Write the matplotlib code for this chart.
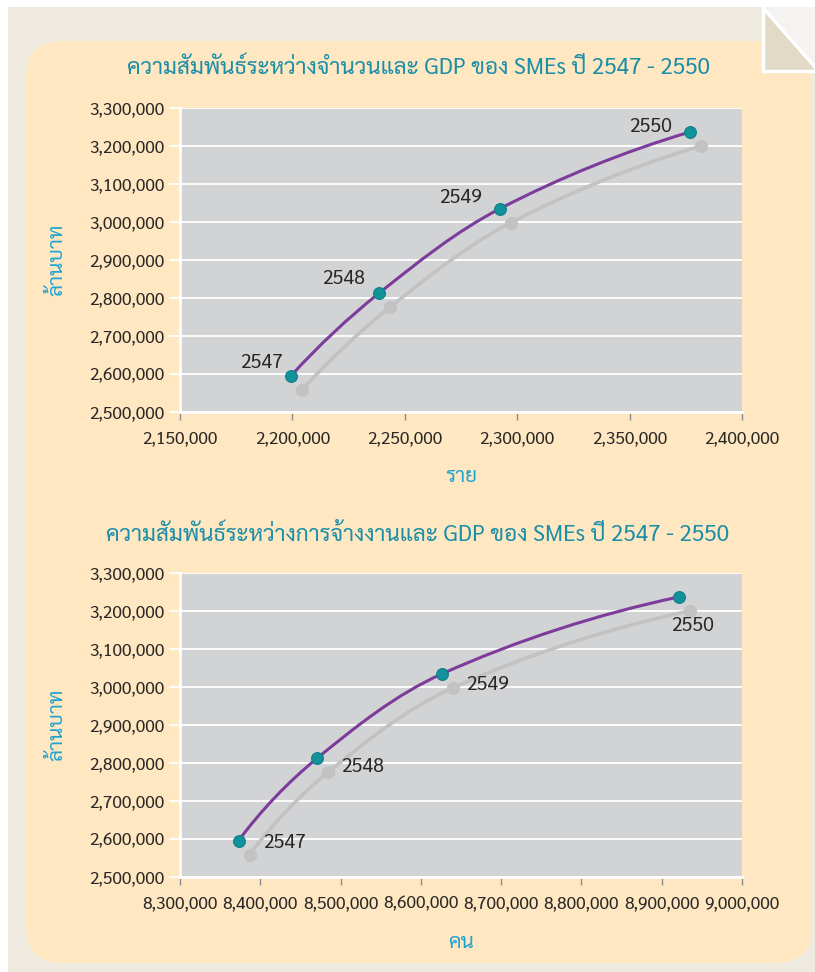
"""Thai SME charts: number of enterprises / employment vs GDP, 2547-2550."""
import matplotlib

matplotlib.use("Agg")
import matplotlib.pyplot as plt
import numpy as np
from matplotlib.patches import FancyBboxPatch, PathPatch, Polygon, Rectangle
from matplotlib.path import Path
from matplotlib.ticker import FuncFormatter, MultipleLocator
from matplotlib.transforms import offset_copy

# narrow latin digits, looped thai for the rest
plt.rcParams["font.family"] = ["Liberation Sans Narrow", "Sarabun", "Niramit", "Athiti", "DejaVu Sans"]

# data
years = ["2547", "2548", "2549", "2550"]
gdp = [2596000, 2812000, 3035000, 3237000]            # ล้านบาท
enterprises = [2199500, 2238400, 2292300, 2376900]    # ราย
employment = [8373000, 8470500, 8626700, 8921400]     # คน

title_top = "ความสัมพันธ์ระหว่างจำนวนและ GDP ของ SMEs ปี 2547 - 2550"
title_bottom = "ความสัมพันธ์ระหว่างการจ้างงานและ GDP ของ SMEs ปี 2547 - 2550"
ylabel = "ล้านบาท"
xlabel_top = "ราย"
xlabel_bottom = "คน"

W, H = 815, 972
PANEL = "#FEE7C1"
PLOT_BG = "#D2D3D5"
PURPLE = "#7D3C9B"
TEAL = "#12929A"
SHADOW = "#C2C2C2"
TITLE_C = "#1B8EA8"
LABEL_C = "#1FA4D2"
TEXT_C = "#2A2727"


def _unit(v):
    return v / np.hypot(*v)


def smooth_path(ax, xs, ys):
    # smooth curve through the points; tangents picked in screen space so
    # uneven spacing doesn't kink it, then mapped back to data coordinates
    pix = ax.transData.transform(np.column_stack([xs, ys]).astype(float))
    n = len(pix)
    tang = [None] * n
    for i in range(1, n - 1):
        tang[i] = _unit(pix[i + 1] - pix[i - 1])
    # free ends: mirror the neighbour's tangent about the end chord
    tang[0] = _unit(2 * _unit(pix[1] - pix[0]) - tang[1])
    tang[-1] = _unit(2 * _unit(pix[-1] - pix[-2]) - tang[-2])
    verts, codes = [pix[0]], [Path.MOVETO]
    for i in range(n - 1):
        seg = np.hypot(*(pix[i + 1] - pix[i])) / 3
        verts += [pix[i] + tang[i] * seg, pix[i + 1] - tang[i + 1] * seg, pix[i + 1]]
        codes += [Path.CURVE4] * 3
    return Path(ax.transData.inverted().transform(np.array(verts)), codes)


def fig_box(x0, y0, x1, y1):
    return [x0 / W, 1 - y1 / H, (x1 - x0) / W, (y1 - y0) / H]


def chart(fig, box, xs, xstep, xlim, xlabel, label_offsets, label_ha):
    ax = fig.add_axes(fig_box(*box))
    ax.set_facecolor(PLOT_BG)
    for side in ("top", "right"):
        ax.spines[side].set_visible(False)
    for side in ("left", "bottom"):
        ax.spines[side].set_color("white")
        ax.spines[side].set_linewidth(2)
    ax.set_xlim(*xlim)
    ax.set_ylim(2500000, 3300000)
    ax.xaxis.set_major_locator(MultipleLocator(xstep))
    ax.yaxis.set_major_locator(MultipleLocator(100000))
    fmt = FuncFormatter(lambda v, _: f"{v:,.0f}")
    ax.xaxis.set_major_formatter(fmt)
    ax.yaxis.set_major_formatter(fmt)
    ax.grid(axis="y", color="white", lw=1.3)
    ax.set_axisbelow(True)
    ax.tick_params(axis="y", length=8, width=1.3, color="white", pad=3,
                   labelsize=12.5, labelcolor=TEXT_C)
    ax.tick_params(axis="x", direction="out", length=6, width=1, color="#8C8C8C",
                   pad=7, labelsize=12.5, labelcolor=TEXT_C)

    curve = smooth_path(ax, xs, gdp)
    # grey drop shadow of the series, shifted down-right
    shade = offset_copy(ax.transData, fig=fig, x=11, y=-14, units="dots")
    ax.add_patch(PathPatch(curve, fc="none", ec=SHADOW, lw=2.6, transform=shade, zorder=3))
    ax.plot(xs, gdp, "o", ms=8.5, color=SHADOW, transform=shade, zorder=3)

    ax.add_patch(PathPatch(curve, fc="none", ec=PURPLE, lw=2.2, zorder=4))
    ax.plot(xs, gdp, "o", ms=8.5, color=TEAL, mec="#0E7F86", mew=0.8, zorder=5)
    for x, y, yr, off in zip(xs, gdp, years, label_offsets):
        ax.annotate(yr, (x, y), xytext=off, textcoords="offset pixels",
                    ha=label_ha, va="baseline", fontsize=14, color=TEXT_C, zorder=6)

    ax.set_xlabel(xlabel, color=LABEL_C, fontsize=15, labelpad=14)
    ax.set_ylabel(ylabel, color=LABEL_C, fontsize=15, labelpad=16)
    return ax


fig = plt.figure(figsize=(W / 100, H / 100), dpi=100, facecolor="white")

# page background, peach panel and folded corner, in pixel units
bg = fig.add_axes([0, 0, 1, 1])
bg.set_xlim(0, W)
bg.set_ylim(H, 0)
bg.axis("off")
bg.add_patch(Rectangle((8, 7), W, H, fc="#EEEAE0", ec="none"))
bg.add_patch(FancyBboxPatch((26, 41), 786, 922, boxstyle="round,pad=0,rounding_size=36",
                            fc=PANEL, ec="none"))
bg.add_patch(Polygon([(763, 7), (W, 7), (W, 66)], fc="#F4F3F1", ec="none"))
bg.add_patch(Polygon([(763, 8), (763, 71), (W, 71), (W, 67)], fc="#E2DAC7",
                     ec="white", lw=2.5, joinstyle="miter"))

fig.text(418 / W, 1 - 68 / H, title_top, ha="center", va="center", fontsize=16.3, color=TITLE_C)
fig.text(418 / W, 1 - 535 / H, title_bottom, ha="center", va="center", fontsize=16.3, color=TITLE_C)

chart(fig, (180, 108, 742, 412), enterprises, 50000, (2150000, 2400000), xlabel_top,
      [(-8, 8), (-14, 9), (-18, 6), (-18, 0)], "right")
chart(fig, (180, 573, 742, 877), employment, 100000, (8300000, 9000000), xlabel_bottom,
      [(24, -7), (24, -14), (24, -16), (-8, -34)], "left")

fig.savefig("out.png", dpi=100, facecolor=fig.get_facecolor())
